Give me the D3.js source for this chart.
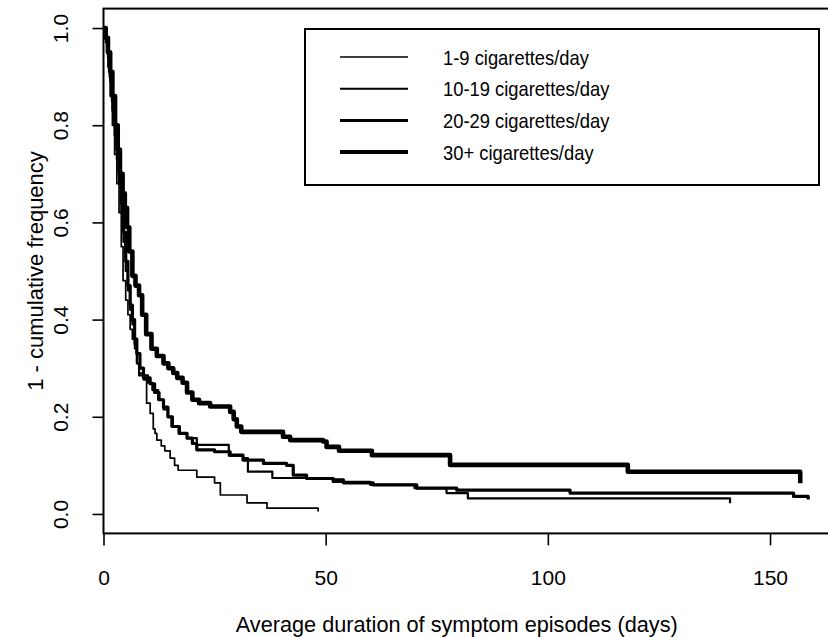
<!DOCTYPE html>
<html>
<head>
<meta charset="utf-8">
<script src="https://cdn.jsdelivr.net/npm/d3@7/dist/d3.min.js"></script>
<style>
	body { margin: 0; background: #fff; }
	svg { display: block; }
	text { font-family: "Liberation Sans", Arial, sans-serif; fill: #000; }
</style>
</head>
<body>
<svg id="chart" width="828" height="637"></svg>
<script>
"use strict";

// group labels, in legend order
var group_names = ["1-9 cigarettes/day", "10-19 cigarettes/day", "20-29 cigarettes/day", "30+ cigarettes/day"];

// step points (time of drop in days, 1 - cumulative frequency after it)
var times_1to9 = [0, 0.5, 1, 1.5, 2, 2.5, 3, 3.5, 4, 4.4, 5, 5.5, 6, 6.5, 7, 7.5, 8, 9, 9.7, 10.5,
	11.2, 11.6, 12, 13, 13.8, 15, 16, 16.8, 21, 25, 26.3, 32.3, 36.8, 48.3];
var surv_1to9 = [1, 0.97, 0.92, 0.86, 0.8, 0.74, 0.68, 0.62, 0.55, 0.48, 0.44, 0.41, 0.38, 0.36, 0.34, 0.31, 0.29, 0.276, 0.228, 0.207,
	0.175, 0.166, 0.152, 0.14, 0.13, 0.115, 0.1, 0.09, 0.076, 0.064, 0.039, 0.023, 0.012, 0.005];

var times_10to19 = [0, 0.5, 1, 1.5, 2, 2.5, 3, 3.5, 4, 4.5, 5, 5.5, 6, 6.5, 7, 7.5, 8, 10, 11, 12.3,
	13.5, 14.5, 15.3, 17.2, 18.8, 21, 28.2, 31.4, 32.5, 38, 51.6, 60, 70, 77.2, 82, 141];
var surv_10to19 = [1, 0.98, 0.94, 0.89, 0.83, 0.78, 0.73, 0.68, 0.62, 0.56, 0.5, 0.46, 0.42, 0.39, 0.35, 0.31, 0.285, 0.27, 0.255, 0.235,
	0.215, 0.2, 0.18, 0.166, 0.156, 0.142, 0.12, 0.115, 0.087, 0.074, 0.066, 0.06, 0.053, 0.043, 0.032, 0.022];

var times_20to29 = [0, 0.5, 1, 1.5, 2, 2.5, 3, 3.5, 4, 4.5, 5, 5.5, 6, 6.5, 7, 7.5, 8.2, 9, 10.5, 11.5,
	12.5, 13.5, 14.5, 15.5, 17, 18.8, 20, 21, 25, 28.5, 31.4, 36, 41.2, 42.7, 45.7, 51.7, 54, 60.7, 70.5, 79.5,
	105, 155.3, 158.6];
var surv_20to29 = [1, 0.98, 0.95, 0.9, 0.85, 0.8, 0.75, 0.7, 0.64, 0.58, 0.52, 0.47, 0.43, 0.4, 0.36, 0.33, 0.3, 0.28, 0.268, 0.25,
	0.235, 0.22, 0.2, 0.18, 0.166, 0.156, 0.145, 0.132, 0.128, 0.121, 0.111, 0.104, 0.1, 0.08, 0.073, 0.07, 0.064, 0.06, 0.053, 0.049,
	0.043, 0.036, 0.03];

var times_30plus = [0, 0.5, 1, 1.5, 2, 2.6, 3.2, 3.7, 4.3, 4.8, 5.3, 5.8, 6.5, 7.2, 8, 8.7, 9.6, 10.8, 12, 13.5,
	14.6, 15.7, 16.6, 17.8, 18.8, 20, 21.5, 24, 28.5, 29.3, 30, 31, 40.4, 42, 49.4, 50.2, 53, 60.4, 78, 118,
	156.8];
var surv_30plus = [1, 0.98, 0.95, 0.91, 0.86, 0.8, 0.75, 0.7, 0.66, 0.63, 0.59, 0.54, 0.49, 0.47, 0.45, 0.41, 0.37, 0.34, 0.325, 0.31,
	0.3, 0.29, 0.28, 0.27, 0.25, 0.235, 0.228, 0.221, 0.21, 0.195, 0.18, 0.169, 0.159, 0.152, 0.149, 0.138, 0.13, 0.121, 0.101, 0.087,
	0.063];

var x_ticks = [0, 50, 100, 150];
var y_ticks = [0, 0.2, 0.4, 0.6, 0.8, 1.0];

var x_title = "Average duration of symptom episodes (days)";
var y_title = "1 - cumulative frequency";

var series = [
	{ name: group_names[0], times: times_1to9, surv: surv_1to9, width: 1.7 },
	{ name: group_names[1], times: times_10to19, surv: surv_10to19, width: 2.2 },
	{ name: group_names[2], times: times_20to29, surv: surv_20to29, width: 3.2 },
	{ name: group_names[3], times: times_30plus, surv: surv_30plus, width: 4.6 },
];

var margin = { left: 103.5, top: 8.6, right: -2, bottom: 103.6 };
var width = 828 - margin.left - margin.right;
var height = 637 - margin.top - margin.bottom;

var svg = d3.select("#chart");
var g = svg.append("g")
	.attr("transform", "translate(" + margin.left + "," + margin.top + ")");

// x axis starts right at 0, y axis keeps R's 4% padding
var x = d3.scaleLinear().domain([0, 163.5]).range([0, width]);
var y = d3.scaleLinear().domain([-0.04, 1.04]).range([height, 0]);

var line = d3.line()
	.x(function(d) { return x(d[0]); })
	.y(function(d) { return y(d[1]); })
	.curve(d3.curveStepAfter);

series.forEach(function(s) {
	var pts = s.times.map(function(t, i) { return [t, s.surv[i]]; });
	g.append("path")
		.datum(pts)
		.attr("fill", "none")
		.attr("stroke", "#000")
		.attr("stroke-width", s.width)
		.attr("stroke-linejoin", "round")
		.attr("d", line);
});

// plot frame
g.append("rect")
	.attr("width", width)
	.attr("height", height)
	.attr("fill", "none")
	.attr("stroke", "#000")
	.attr("stroke-width", 2);

var x_axis = g.append("g")
	.attr("transform", "translate(0," + height + ")")
	.call(d3.axisBottom(x).tickValues(x_ticks).tickSize(12).tickFormat(d3.format("d")));
x_axis.select(".domain").remove();
x_axis.selectAll("line").attr("stroke-width", 1.6);
x_axis.selectAll("text")
	.attr("y", 51.5)
	.attr("dy", null)
	.style("font-size", "21px")
	.style("font-family", null);

var y_axis = g.append("g")
	.call(d3.axisLeft(y).tickValues(y_ticks).tickSize(11).tickFormat(d3.format(".1f")));
y_axis.select(".domain").remove();
y_axis.selectAll("line").attr("stroke-width", 1.6);
y_axis.selectAll("text")
	.attr("x", 0)
	.attr("y", -35.5)
	.attr("dy", null)
	.attr("transform", "rotate(-90)")
	.attr("text-anchor", "middle")
	.style("font-size", "21px")
	.style("font-family", null);

svg.append("text")
	.attr("x", margin.left + x(79.5))
	.attr("y", 632)
	.attr("text-anchor", "middle")
	.style("font-size", "21.7px")
	.text(x_title);

svg.append("text")
	.attr("transform", "translate(43," + (margin.top + height / 2) + ") rotate(-90)")
	.attr("text-anchor", "middle")
	.style("font-size", "22px")
	.text(y_title);

// legend box
var legend = svg.append("g").attr("transform", "translate(305,29)");
legend.append("rect")
	.attr("width", 514)
	.attr("height", 156)
	.attr("fill", "#fff")
	.attr("stroke", "#000")
	.attr("stroke-width", 2);

var legend_widths = [1.5, 2, 3, 4];
var rows = legend.selectAll("g.row")
	.data(series)
	.enter().append("g")
		.attr("class", "row")
		.attr("transform", function(d, i) { return "translate(0," + (28 + i * 31.7) + ")"; });
rows.append("line")
	.attr("x1", 35)
	.attr("x2", 103)
	.attr("stroke", "#000")
	.attr("stroke-width", function(d, i) { return legend_widths[i]; });
// legend lettering in the scan is narrower than the axis text
rows.append("text")
	.attr("transform", "translate(138,7.5) scale(0.875,1)")
	.style("font-size", "21px")
	.text(function(d) { return d.name; });
</script>
</body>
</html>
